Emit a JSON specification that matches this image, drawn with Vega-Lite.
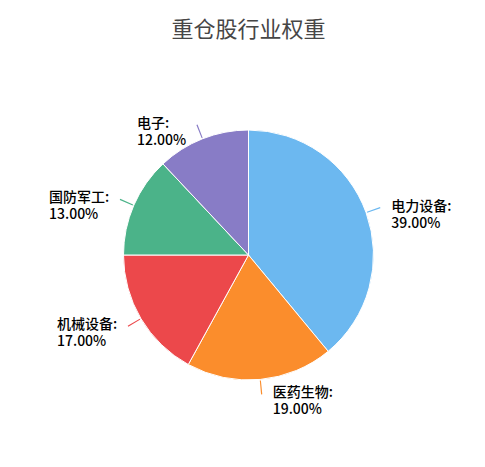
{
  "$schema": "https://vega.github.io/schema/vega-lite/v6.json",
  "autosize": {"type": "none"},
  "width": 473,
  "height": 390,
  "padding": {"left": 12, "top": 60, "right": 0, "bottom": 17},
  "background": "white",
  "title": {
    "text": "重仓股行业权重",
    "font": "Noto Sans CJK SC",
    "fontSize": 22,
    "fontWeight": "normal",
    "color": "#464646",
    "anchor": "middle",
    "baseline": "alphabetic",
    "offset": 1
  },
  "config": {"view": {"stroke": null}},
  "data": {
    "values": [
      {"name": "电力设备", "value": 39},
      {"name": "医药生物", "value": 19},
      {"name": "机械设备", "value": 17},
      {"name": "国防军工", "value": 13},
      {"name": "电子", "value": 12}
    ]
  },
  "transform": [
    {"window": [{"op": "sum", "field": "value", "as": "cum"}], "frame": [null, 0]},
    {"calculate": "datum.cum - datum.value", "as": "start"},
    {"calculate": "datum.cum - datum.value / 2", "as": "mid"},
    {"calculate": "datum.mid - 0.07", "as": "lineA"},
    {"calculate": "datum.mid + 0.07", "as": "lineB"},
    {"calculate": "datum.mid < 50 ? 'R' : 'L'", "as": "side"},
    {"calculate": "[datum.name + ':', format(datum.value, '.2f') + '%']", "as": "label"}
  ],
  "encoding": {
    "color": {
      "field": "name",
      "type": "nominal",
      "legend": null,
      "scale": {
        "domain": ["电力设备", "医药生物", "机械设备", "国防军工", "电子"],
        "range": ["#6cb8f0", "#fb8d2c", "#ec484b", "#4bb389", "#887cc6"]
      }
    }
  },
  "layer": [
    {
      "mark": {"type": "arc", "radius": 125, "stroke": "white", "strokeWidth": 1},
      "encoding": {
        "theta": {"field": "start", "type": "quantitative", "stack": null,
                  "scale": {"domain": [0, 100], "range": [0, 6.283185307]}},
        "theta2": {"field": "cum"}
      }
    },
    {
      "mark": {"type": "arc", "radius": 140, "radius2": 126},
      "encoding": {
        "theta": {"field": "lineA", "type": "quantitative", "stack": null},
        "theta2": {"field": "lineB"}
      }
    },
    {
      "transform": [{"filter": "datum.side == 'R'"}],
      "mark": {"type": "text", "radius": 140, "align": "left", "baseline": "middle", "dx": 11, "dy": -1,
               "font": "Noto Sans CJK SC", "fontSize": 14, "fontWeight": 500, "lineHeight": 17},
      "encoding": {
        "theta": {"field": "mid", "type": "quantitative", "stack": null},
        "text": {"field": "label"},
        "color": {"value": "#000000"}
      }
    },
    {
      "transform": [{"filter": "datum.side == 'L' && length(datum.name) > 2"}],
      "mark": {"type": "text", "radius": 140, "align": "left", "baseline": "middle", "dx": -71, "dy": -1,
               "font": "Noto Sans CJK SC", "fontSize": 14, "fontWeight": 500, "lineHeight": 17},
      "encoding": {
        "theta": {"field": "mid", "type": "quantitative", "stack": null},
        "text": {"field": "label"},
        "color": {"value": "#000000"}
      }
    },
    {
      "transform": [{"filter": "datum.side == 'L' && length(datum.name) <= 2"}],
      "mark": {"type": "text", "radius": 140, "align": "left", "baseline": "middle", "dx": -60, "dy": -1,
               "font": "Noto Sans CJK SC", "fontSize": 14, "fontWeight": 500, "lineHeight": 17},
      "encoding": {
        "theta": {"field": "mid", "type": "quantitative", "stack": null},
        "text": {"field": "label"},
        "color": {"value": "#000000"}
      }
    }
  ]
}
